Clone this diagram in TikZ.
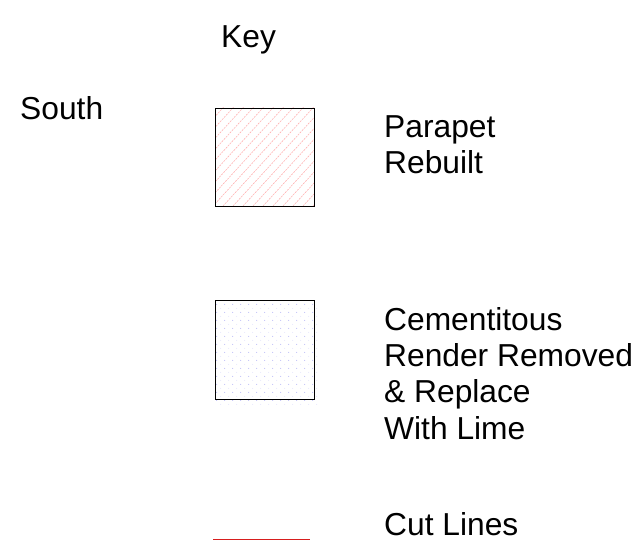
\documentclass[tikz,border=0pt]{standalone}
\usepackage{fontspec}
\setmainfont{Liberation Sans}
\tikzset{
    keytext/.style={font=\fontsize{31.75}{36.3}\selectfont,align=left,anchor=north west,inner sep=0pt},
    keybox/.style={draw=black,line width=.8pt,minimum width=99pt,minimum height=98pt,inner sep=0pt,anchor=north west},
    hatchline/.style={draw=red!30,line width=.6pt,dash pattern=on 2pt off 1pt},
}
\definecolor{dotblue}{RGB}{170,170,245}
\definecolor{dotfaint}{RGB}{225,225,250}
\definecolor{cutred}{RGB}{215,30,30}

\begin{document}
\begin{tikzpicture}[x=1pt,y=-1pt]
\useasboundingbox (0,0) rectangle (637,540);
\node[keytext] at (221,25) (keytitle) {Key};
\node[keytext] at (20,96) (south) {South};

\begin{scope}
\clip (215,108) rectangle (314,206);
\foreach \x in {0,10,...,220} {
    \draw[hatchline] (203+\x-100,206) -- ++(110,-120);
}
\end{scope}
\node[keybox] at (215,108) (parapet) {};

\foreach \x in {0,...,12} {
    \foreach \y in {0,...,12} {
        \fill[dotblue] (216.7+8*\x,304.3+8*\y) circle (.5pt);
        \fill[dotfaint] (220.7+8*\x,308.3+8*\y) circle (.5pt);
    }
}
\node[keybox,minimum height=99pt] at (215,300) (render) {};

\node[keytext] at (384,115.5) (parapettext) {Parapet\\Rebuilt};
\node[keytext] at (384,307) (rendertext) {Cementitous\\Render Removed\\\& Replace\\With Lime};
\node[keytext] at (384,512) (cuttext) {Cut Lines};

\coordinate (cutl) at (213,539);
\coordinate (cutr) at (310,539);
\draw[cutred,line width=1pt] (cutl) -- (cutr);
\end{tikzpicture}
\end{document}
